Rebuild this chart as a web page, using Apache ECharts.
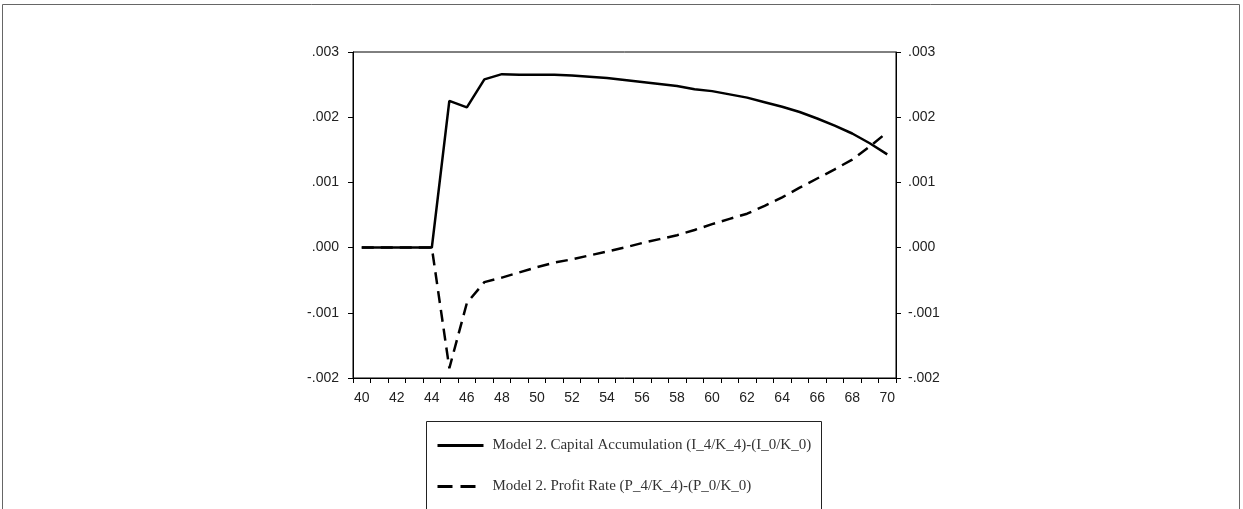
<!DOCTYPE html>
<html>
<head>
<meta charset="utf-8">
<script src="https://cdn.jsdelivr.net/npm/echarts@6/dist/echarts.min.js"></script>
<style>
  html, body { margin: 0; padding: 0; background: #fff; }
  #chart { width: 1243px; height: 509px; }
</style>
</head>
<body>
<div id="chart"></div>
<script>
  // years on the x axis
  var years = [];
  for (var y = 40; y <= 70; y++) years.push(String(y));

  // Model 2. Capital Accumulation (I_4/K_4)-(I_0/K_0)
  var capitalAccum = [
    0, 0, 0, 0, 0, 0.00225, 0.00215, 0.00258, 0.00266, 0.00265,
    0.00265, 0.00265, 0.00264, 0.00262, 0.00260, 0.00257, 0.00254, 0.00251, 0.00248, 0.00243,
    0.00240, 0.00235, 0.00230, 0.00223, 0.00216, 0.00208, 0.00198, 0.00187, 0.00175, 0.00160,
    0.00143
  ];

  // Model 2. Profit Rate (P_4/K_4)-(P_0/K_0)
  var profitRate = [
    0, 0, 0, 0, 0, -0.00185, -0.00085, -0.00053, -0.00046, -0.00038,
    -0.00030, -0.00023, -0.00018, -0.00012, -0.00006, 0.00000, 0.00007, 0.00013, 0.00019, 0.00027,
    0.00036, 0.00044, 0.00052, 0.00064, 0.00077, 0.00092, 0.00106, 0.00120, 0.00135, 0.00155,
    0.00177
  ];

  var seriesNames = [
    'Model 2. Capital Accumulation (I_4/K_4)-(I_0/K_0)',
    'Model 2. Profit Rate (P_4/K_4)-(P_0/K_0)'
  ];

  function fmt(v) {
    var s = (Math.round(v * 1000) / 1000).toFixed(3);
    return s.replace('0.', '.');
  }

  var labelFont = { color: '#222', fontSize: 14, fontFamily: 'Liberation Sans, Arial' };
  var yBase = {
    type: 'value', min: -0.002, max: 0.003, interval: 0.001,
    axisLine: { show: true, onZero: false, lineStyle: { color: '#000', width: 1 } },
    axisTick: { show: true, length: 5, lineStyle: { color: '#000' } },
    splitLine: { show: false }
  };

  var chart = echarts.init(document.getElementById('chart'));
  chart.setOption({
    animation: false,
    backgroundColor: '#fff',
    graphic: [
      { type: 'rect', shape: { x: 2.5, y: 4.5, width: 1237, height: 520 },
        style: { fill: 'none', stroke: '#666', lineWidth: 1 } },
      { type: 'rect', shape: { x: 426.5, y: 421.5, width: 395, height: 100 },
        style: { fill: 'none', stroke: '#222', lineWidth: 1 } }
    ],
    grid: {
      left: 353, right: 347, top: 52, bottom: 131,
      show: true, borderColor: '#000', borderWidth: 1, backgroundColor: 'transparent'
    },
    legend: {
      orient: 'vertical',
      left: 436, top: 438, padding: 0,
      itemWidth: 46, itemHeight: 14, itemGap: 26,
      itemStyle: { opacity: 0 },
      textStyle: { color: '#333', fontSize: 15, fontFamily: 'Liberation Serif, serif', padding: [0, 0, 0, 4] },
      data: [
        { name: seriesNames[0], lineStyle: { width: 3, type: 'solid' } },
        { name: seriesNames[1], lineStyle: { width: 3, type: [15, 8] } }
      ]
    },
    xAxis: {
      type: 'category',
      data: years,
      boundaryGap: true,
      axisLine: { onZero: false, lineStyle: { color: '#000', width: 1 } },
      axisTick: { show: true, interval: 0, length: 5, lineStyle: { color: '#000' } },
      axisLabel: Object.assign({ interval: 1, margin: 13 }, labelFont)
    },
    yAxis: [
      Object.assign({}, yBase, { position: 'left', axisLabel: Object.assign({ formatter: fmt, margin: 14 }, labelFont) }),
      Object.assign({}, yBase, { position: 'right', axisLabel: Object.assign({ formatter: fmt, margin: 12 }, labelFont) })
    ],
    series: [
      {
        name: seriesNames[0], type: 'line', data: capitalAccum,
        showSymbol: false, symbol: 'none',
        lineStyle: { color: '#000', width: 2.5, type: 'solid' },
        itemStyle: { color: '#000' }
      },
      {
        name: seriesNames[1], type: 'line', data: profitRate,
        showSymbol: false, symbol: 'none',
        lineStyle: { color: '#000', width: 2.5, type: [12, 7] },
        itemStyle: { color: '#000' }
      }
    ]
  });
</script>
</body>
</html>
